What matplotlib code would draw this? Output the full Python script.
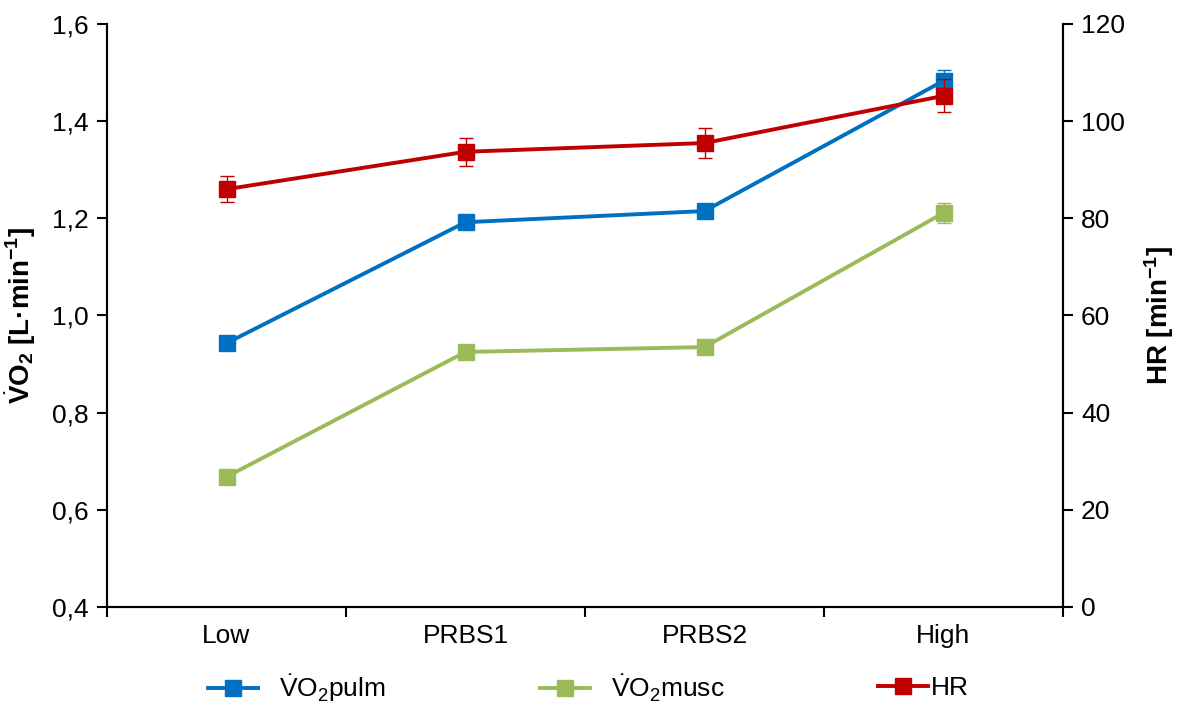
import matplotlib
matplotlib.use("Agg")
import matplotlib.pyplot as plt
from matplotlib.lines import Line2D

plt.rcParams['font.family'] = ['Liberation Sans', 'DejaVu Sans']
plt.rcParams['mathtext.fontset'] = 'custom'
plt.rcParams['mathtext.rm'] = 'Liberation Sans'
plt.rcParams['mathtext.it'] = 'Liberation Sans:italic'
plt.rcParams['mathtext.bf'] = 'Liberation Sans:bold'

# Data
categories = ["Low", "PRBS1", "PRBS2", "High"]
vo2_pulm = [0.943, 1.192, 1.215, 1.483]
vo2_pulm_err = [0.006, 0.012, 0.009, 0.022]
vo2_musc = [0.668, 0.925, 0.935, 1.211]
vo2_musc_err = [0.005, 0.006, 0.006, 0.021]
hr = [86.0, 93.7, 95.5, 105.2]
hr_err = [2.7, 2.9, 3.1, 3.4]

c_pulm = "#0070C0"
c_musc = "#9BBB59"
c_hr = "#C00000"

fig = plt.figure(figsize=(11.77, 7.02), dpi=100)
ax = fig.add_axes([107/1177, 1 - 607/702, (1063-107)/1177, (607-24)/702])
ax2 = ax.twinx()

x = list(range(len(categories)))
style = dict(lw=2.8, marker='s', markersize=12, capsize=5, elinewidth=1.0, capthick=1.0)
ax.errorbar(x, vo2_pulm, yerr=vo2_pulm_err, color=c_pulm, **style)
ax.errorbar(x, vo2_musc, yerr=vo2_musc_err, color=c_musc, **style)
ax2.errorbar(x, hr, yerr=hr_err, color=c_hr, **style)

ax.set_xlim(-0.5, 3.5)
ax.set_ylim(0.4, 1.6)
ax2.set_ylim(0, 120)

yt = [0.4, 0.6, 0.8, 1.0, 1.2, 1.4, 1.6]
ax.set_yticks(yt)
ax.set_yticklabels([f"{v:.1f}".replace('.', ',') for v in yt])
ax2.set_yticks(range(0, 121, 20))

ax.set_xticks([-0.5, 0.5, 1.5, 2.5, 3.5])
ax.set_xticklabels([])
ax.set_xticks(x, minor=True)
ax.set_xticklabels(categories, minor=True)
ax.tick_params(axis='x', which='major', length=7, width=1.5, direction='out')
ax.tick_params(axis='x', which='minor', length=0, pad=12, labelsize=19)
ax.tick_params(axis='y', length=7, width=1.5, direction='out', labelsize=19, pad=6)
ax2.tick_params(axis='y', length=7, width=1.5, direction='out', labelsize=19, pad=6)

for a in (ax, ax2):
    a.spines['top'].set_visible(False)
    for s in ('left', 'right', 'bottom'):
        a.spines[s].set_linewidth(1.5)

ax.set_ylabel(r"$\dot{\mathbf{V}}\mathbf{O}_\mathbf{2}$ [L·min$^\mathbf{-1}$]", fontsize=20,
              fontweight='bold', labelpad=10)
ax2.set_ylabel(r"HR [min$^\mathbf{-1}$]", fontsize=20, fontweight='bold',
               rotation=90, labelpad=12)

# Legend entries placed along the bottom
entries = [
    (c_pulm, r"$\dot{\mathrm{V}}\mathrm{O}_2$pulm", 208/1177, 0.8),
    (c_musc, r"$\dot{\mathrm{V}}\mathrm{O}_2$musc", 540/1177, 0.8),
    (c_hr, "HR", 878/1177, 0.1),
]
for col, lab, xpos, pad in entries:
    h = Line2D([], [], color=col, lw=2.8, marker='s', markersize=11)
    fig.legend([h], [lab], loc='center left', bbox_to_anchor=(xpos, 1 - 688/702),
               frameon=False, fontsize=19, handlelength=1.9, handletextpad=pad,
               borderaxespad=0, borderpad=0)

fig.savefig("out.png", dpi=100)
